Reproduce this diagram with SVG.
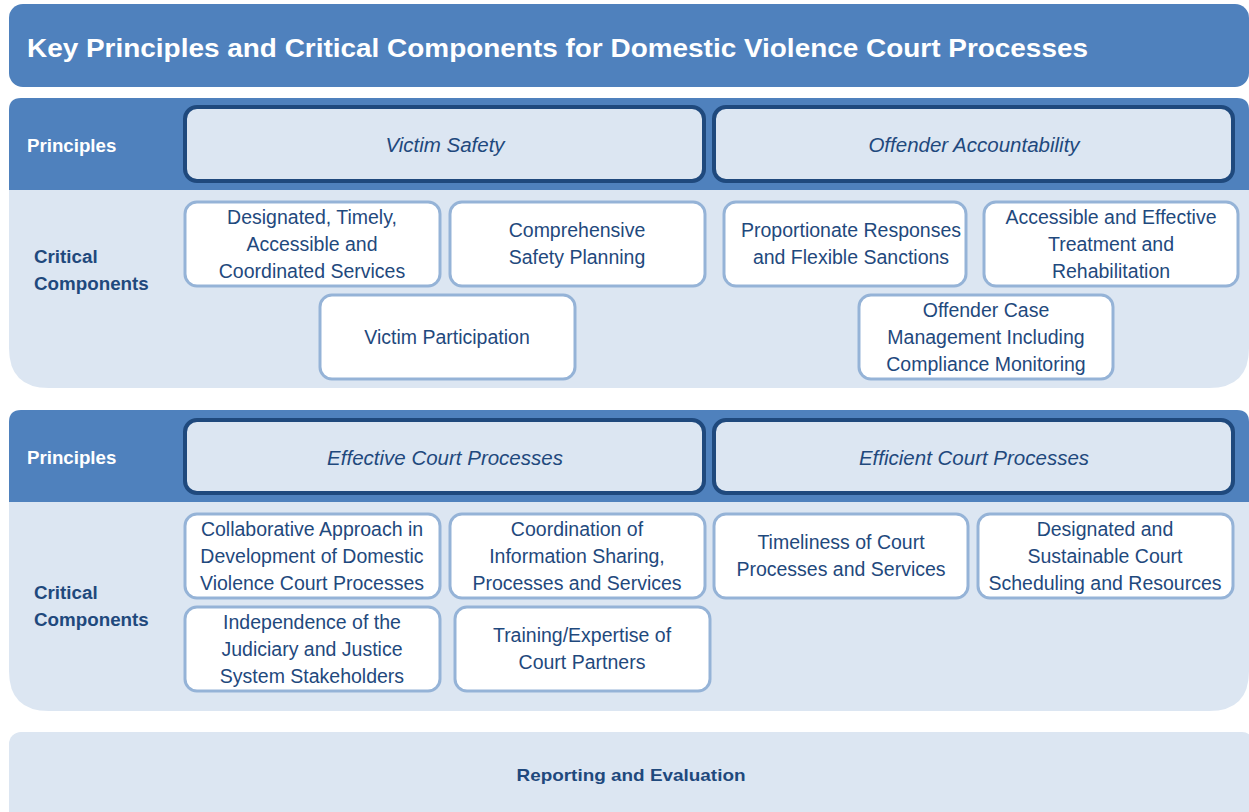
<svg xmlns="http://www.w3.org/2000/svg" width="1249" height="812" viewBox="0 0 1249 812">
<style>
.band{fill:#4f81bd}
.panel{fill:#dce6f2}
.prin{fill:#dce6f2;stroke:#1f497d;stroke-width:4}
.comp{fill:#ffffff;stroke:#95b3d7;stroke-width:3}
.t{font-family:"Liberation Sans",Arial,sans-serif;font-size:19.5px;fill:#1f497d;text-anchor:middle}
.pt{font-family:"Liberation Sans",Arial,sans-serif;font-size:20.5px;fill:#1f497d;text-anchor:middle;font-style:italic}
.lw{font-family:"Liberation Sans",Arial,sans-serif;font-size:18.7px;fill:#ffffff;font-weight:bold}
.ln{font-family:"Liberation Sans",Arial,sans-serif;font-size:18.8px;fill:#1f497d;font-weight:bold}
</style>
<rect width="1249" height="812" fill="#ffffff"/>
<g id="title">
<rect x="9" y="4" width="1240" height="83" rx="14" class="band"/>
<text x="27" y="57" font-family="'Liberation Sans',Arial,sans-serif" font-size="26" font-weight="bold" fill="#ffffff" textLength="1061" lengthAdjust="spacingAndGlyphs">Key Principles and Critical Components for Domestic Violence Court Processes</text>
</g>
<g id="section1">
<path class="panel" d="M9 180 H1249 V348 Q1249 388 1209 388 H49 Q9 388 9 348 Z"/>
<path class="band" d="M21 98 H1237 Q1249 98 1249 110 V190 H9 V110 Q9 98 21 98 Z"/>
<text class="lw" x="27" y="152">Principles</text>
<text class="ln" x="34" y="263">Critical</text>
<text class="ln" x="34" y="290">Components</text>
</g>
<g id="victim-safety"><rect class="prin" x="185" y="107" width="519" height="74" rx="12"/><text class="pt" x="445" y="152">Victim Safety</text></g>
<g id="offender-accountability"><rect class="prin" x="714" y="107" width="519" height="74" rx="12"/><text class="pt" x="974" y="152">Offender Accountability</text></g>
<g id="designated-services"><rect class="comp" x="185" y="202" width="255" height="84" rx="12"/><text class="t" x="312" y="224">Designated, Timely,</text><text class="t" x="312" y="251">Accessible and</text><text class="t" x="312" y="278">Coordinated Services</text></g>
<g id="safety-planning"><rect class="comp" x="450" y="202" width="255" height="84" rx="12"/><text class="t" x="577" y="237">Comprehensive</text><text class="t" x="577" y="264">Safety Planning</text></g>
<g id="victim-participation"><rect class="comp" x="320" y="295" width="255" height="84" rx="12"/><text class="t" x="447" y="344">Victim Participation</text></g>
<g id="proportionate"><rect class="comp" x="724" y="202" width="242" height="84" rx="12"/><text class="t" x="851" y="237">Proportionate Responses</text><text class="t" x="851" y="264">and Flexible Sanctions</text></g>
<g id="treatment"><rect class="comp" x="984" y="202" width="254" height="84" rx="12"/><text class="t" x="1111" y="224">Accessible and Effective</text><text class="t" x="1111" y="251">Treatment and</text><text class="t" x="1111" y="278">Rehabilitation</text></g>
<g id="case-management"><rect class="comp" x="859" y="295" width="254" height="84" rx="12"/><text class="t" x="986" y="317">Offender Case</text><text class="t" x="986" y="344">Management Including</text><text class="t" x="986" y="371">Compliance Monitoring</text></g>
<g id="section2">
<path class="panel" d="M9 490 H1249 V671 Q1249 711 1209 711 H49 Q9 711 9 671 Z"/>
<path class="band" d="M21 410 H1237 Q1249 410 1249 422 V502 H9 V422 Q9 410 21 410 Z"/>
<text class="lw" x="27" y="464">Principles</text>
<text class="ln" x="34" y="599">Critical</text>
<text class="ln" x="34" y="626">Components</text>
</g>
<g id="effective"><rect class="prin" x="185" y="420" width="519" height="73" rx="12"/><text class="pt" x="445" y="465">Effective Court Processes</text></g>
<g id="efficient"><rect class="prin" x="714" y="420" width="519" height="73" rx="12"/><text class="pt" x="974" y="465">Efficient Court Processes</text></g>
<g id="collaborative"><rect class="comp" x="185" y="514" width="255" height="84" rx="12"/><text class="t" x="312" y="536">Collaborative Approach in</text><text class="t" x="312" y="563">Development of Domestic</text><text class="t" x="312" y="590">Violence Court Processes</text></g>
<g id="coordination"><rect class="comp" x="450" y="514" width="255" height="84" rx="12"/><text class="t" x="577" y="536">Coordination of</text><text class="t" x="577" y="563">Information Sharing,</text><text class="t" x="577" y="590">Processes and Services</text></g>
<g id="timeliness"><rect class="comp" x="714" y="514" width="254" height="84" rx="12"/><text class="t" x="841" y="549">Timeliness of Court</text><text class="t" x="841" y="576">Processes and Services</text></g>
<g id="scheduling"><rect class="comp" x="978" y="514" width="255" height="84" rx="12"/><text class="t" x="1105" y="536">Designated and</text><text class="t" x="1105" y="563">Sustainable Court</text><text class="t" x="1105" y="590">Scheduling and Resources</text></g>
<g id="independence"><rect class="comp" x="185" y="607" width="255" height="84" rx="12"/><text class="t" x="312" y="629">Independence of the</text><text class="t" x="312" y="656">Judiciary and Justice</text><text class="t" x="312" y="683">System Stakeholders</text></g>
<g id="training"><rect class="comp" x="455" y="607" width="255" height="84" rx="12"/><text class="t" x="582" y="642">Training/Expertise of</text><text class="t" x="582" y="669">Court Partners</text></g>
<g id="reporting">
<rect class="panel" x="9" y="732" width="1245" height="95" rx="12"/>
<text x="631" y="781" font-family="'Liberation Sans',Arial,sans-serif" font-size="17" font-weight="bold" fill="#1f497d" text-anchor="middle" textLength="229" lengthAdjust="spacingAndGlyphs">Reporting and Evaluation</text>
</g>
<g id="connectors"/>
</svg>
